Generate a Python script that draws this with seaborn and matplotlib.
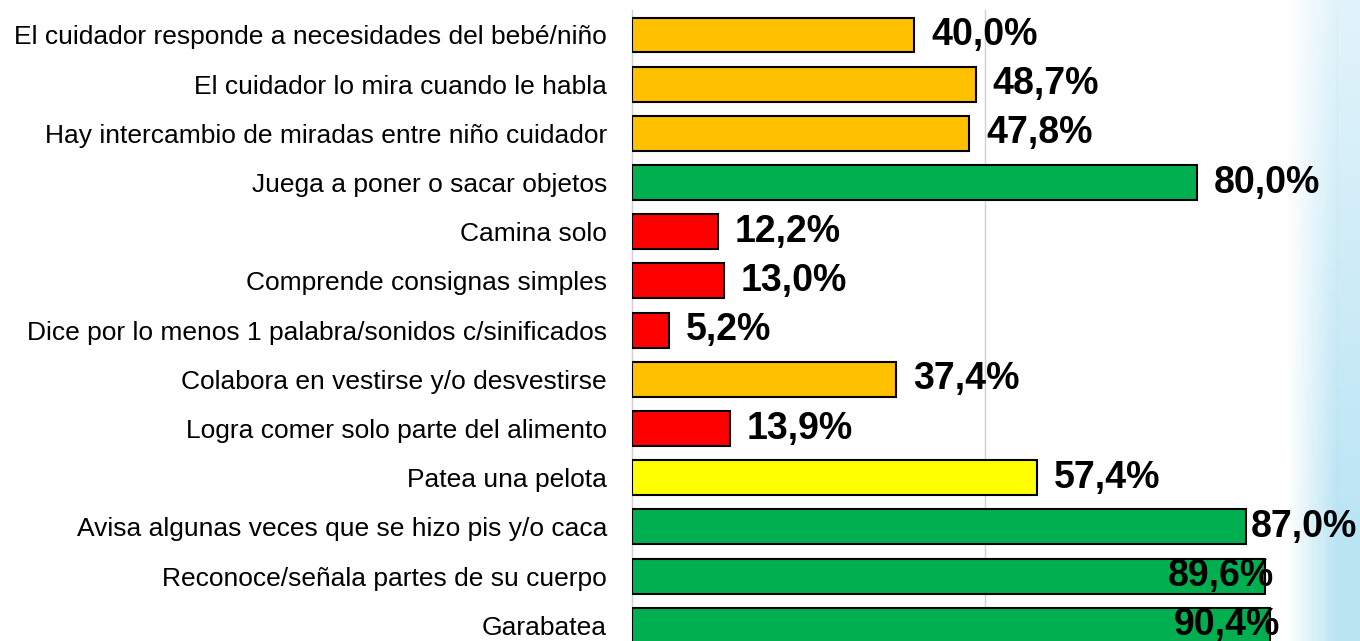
import numpy as np
import pandas as pd
import seaborn as sns
from matplotlib import pyplot as plt

categorias = [
    'El cuidador responde a necesidades del bebé/niño',
    'El cuidador lo mira cuando le habla',
    'Hay intercambio de miradas entre niño cuidador',
    'Juega a poner o sacar objetos',
    'Camina solo',
    'Comprende consignas simples',
    'Dice por lo menos 1 palabra/sonidos c/sinificados',
    'Colabora en vestirse y/o desvestirse',
    'Logra comer solo parte del alimento',
    'Patea una pelota',
    'Avisa algunas veces que se hizo pis y/o caca',
    'Reconoce/señala partes de su cuerpo',
    'Garabatea',
]
porcentajes = [40.0, 48.7, 47.8, 80.0, 12.2, 13.0, 5.2, 37.4, 13.9, 57.4, 87.0, 89.6, 90.4]
niveles = ['medio', 'medio', 'medio', 'alto', 'bajo', 'bajo', 'bajo', 'medio', 'bajo',
           'medio_alto', 'alto', 'alto', 'alto']

colores = {'alto': '#00B050', 'medio': '#FFC000', 'bajo': '#FF0000', 'medio_alto': '#FFFF00'}

df = pd.DataFrame({'cat': categorias, 'valor': porcentajes, 'nivel': niveles})

sns.set_style('white')
plt.rcParams['font.family'] = ['Liberation Sans', 'DejaVu Sans']
plt.rcParams['text.color'] = 'black'
plt.rcParams['ytick.color'] = 'black'

fig = plt.figure(figsize=(13.6, 6.41), dpi=100)

# fondo decorativo celeste a la derecha
bg = fig.add_axes([0, 0, 1, 1], zorder=-1)
w, h = 400, 200
xx = np.linspace(0, 1, w)[None, :]
yy = np.linspace(0, 1, h)[:, None]
fade = np.clip((xx - 0.948) / 0.035, 0, 1) * (0.3 + 0.7 * np.clip(1.2 - yy, 0, 1))
rgb = np.ones((h, w, 3))
azul = np.array([0.74, 0.9, 0.96])
rgb = rgb * (1 - fade[..., None]) + azul * fade[..., None]
bg.imshow(rgb, aspect='auto', extent=[0, 1, 0, 1], origin='lower')
bg.set_xlim(0, 1)
bg.set_ylim(0, 1)
bg.axis('off')

ax = fig.add_axes([632 / 1360, 0, (1338 - 632) / 1360, 1 - 10.4 / 641])
ax.patch.set_alpha(0)

sns.barplot(data=df, x='valor', y='cat', hue='nivel', palette=colores, dodge=False,
            saturation=1, width=0.71, edgecolor='black', linewidth=1.5, legend=False,
            ax=ax, zorder=3)

ax.set_xlim(0, 100)
ax.set_ylim(12.32, -0.5)
for gx in [50, 100]:
    ax.axvline(gx, color='#D0D0D0', lw=1, zorder=0)
ax.set_xticks([])
ax.set_xlabel('')
ax.set_ylabel('')
for s in ['top', 'right', 'bottom']:
    ax.spines[s].set_visible(False)
ax.spines['left'].set_color('#D0D0D0')
ax.spines['left'].set_linewidth(1)
ax.tick_params(axis='y', length=0, pad=18, labelsize=19, labelcolor='black')

for i, v in enumerate(porcentajes):
    txt = f'{v:.1f}%'.replace('.', ',')
    if v + 2.4 + 14.9 <= 103:
        ax.text(v + 2.4, i, txt, ha='left', va='center', fontsize=27, fontweight='bold',
                color='black', zorder=5)
    elif v < 88:
        ax.text(v + 0.7, i, txt, ha='left', va='center', fontsize=27, fontweight='bold',
                color='black', zorder=5)
    else:
        ax.text(v + 1.4, i, txt, ha='right', va='center', fontsize=27, fontweight='bold',
                color='black', zorder=5)

fig.savefig('out.png', dpi=100)
